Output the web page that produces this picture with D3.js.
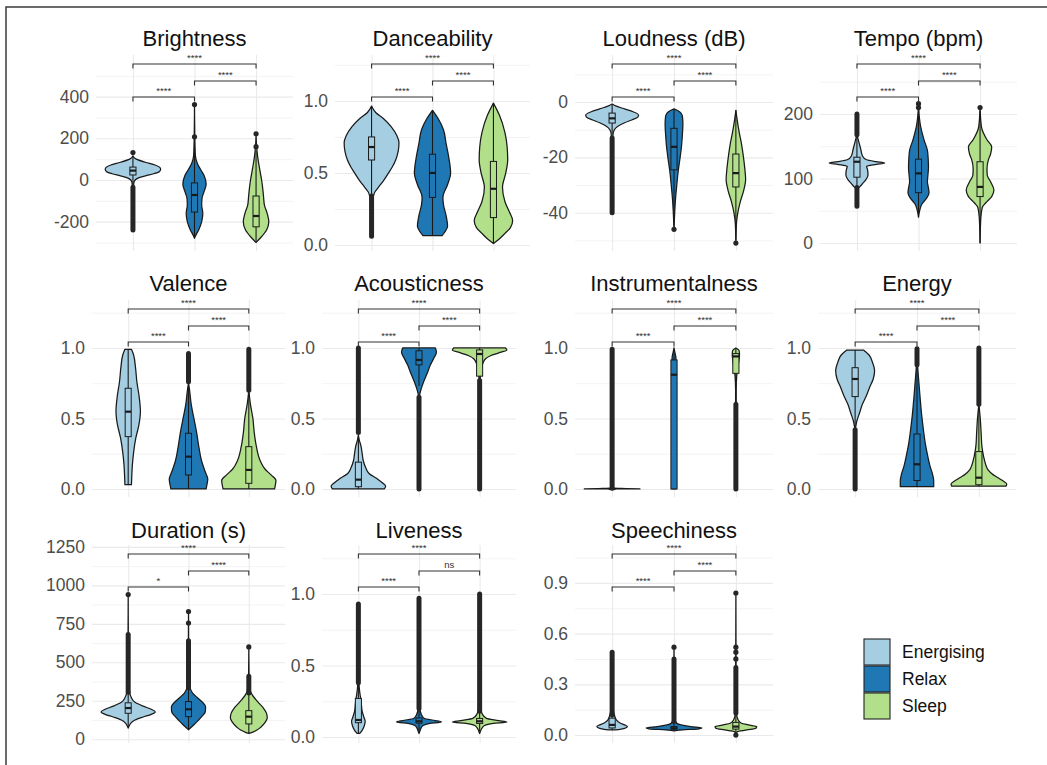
<!DOCTYPE html>
<html><head><meta charset="utf-8">
<script src="https://cdn.jsdelivr.net/npm/d3@7"></script>
<style>body{margin:0;background:#fff}svg{display:block;font-family:"Liberation Sans",Arial,Helvetica,sans-serif}</style>
</head><body><svg id="c" width="1047" height="765"></svg>
<script>
// ---------------- DATA ----------------
const groups = ["Energising", "Relax", "Sleep"];
const groupColors = ["#A6CEE3", "#1F78B4", "#B2DF8A"];
const panelTitles = ["Brightness","Danceability","Loudness (dB)","Tempo (bpm)","Valence","Acousticness","Instrumentalness","Energy","Duration (s)","Liveness","Speechiness"];

// y-axis domain per panel
const yDomains = [[-341,600],[-0.042,1.319],[-53.85,17.0],[-12.4,291.5],[-0.057,1.34],[-0.057,1.34],[-0.057,1.34],[-0.057,1.34],[-24,1262],[-0.042,1.343],[-0.047,1.124]];
// major ticks and labels
const tickValues = [[-200,0,200,400],[0,0.5,1],[-40,-20,0],[0,100,200],[0,0.5,1],[0,0.5,1],[0,0.5,1],[0,0.5,1],[0,250,500,750,1000,1250],[0,0.5,1],[0,0.3,0.6,0.9]];
const tickLabels = [["-200","0","200","400"],["0.0","0.5","1.0"],["-40","-20","0"],["0","100","200"],["0.0","0.5","1.0"],["0.0","0.5","1.0"],["0.0","0.5","1.0"],["0.0","0.5","1.0"],["0","250","500","750","1000","1250"],["0.0","0.5","1.0"],["0.0","0.3","0.6","0.9"]];
const minorTicks = [[-300,-100,100,300,500],[0.25,0.75,1.25],[-50,-30,-10,10],[50,150,250],[0.25,0.75,1.25],[0.25,0.75,1.25],[0.25,0.75,1.25],[0.25,0.75,1.25],[125,375,625,875,1125],[0.25,0.75,1.25],[0.15,0.45,0.75,1.05]];

// violin profiles: [value, relative half-width] per group (Energising, Relax, Sleep)
const violinProfiles = [
 [ // Brightness
  [[115,0],[100,0.12],[85,0.45],[72,0.8],[60,0.97],[50,1.0],[40,0.95],[30,0.75],[20,0.45],[10,0.2],[0,0.08],[-15,0.03],[-60,0.015],[-240,0.005]],
  [[360,0],[210,0.01],[120,0.03],[80,0.1],[50,0.22],[20,0.35],[-20,0.42],[-50,0.36],[-90,0.27],[-120,0.26],[-160,0.3],[-200,0.26],[-240,0.15],[-270,0.03],[-280,0]],
  [[222,0],[160,0.02],[110,0.06],[60,0.12],[0,0.2],[-40,0.24],[-80,0.27],[-120,0.3],[-160,0.4],[-200,0.46],[-240,0.38],[-275,0.18],[-300,0]]
 ],
 [ // Danceability
  [[0.965,0],[0.92,0.15],[0.88,0.42],[0.82,0.72],[0.76,0.92],[0.71,1.0],[0.65,0.97],[0.59,0.88],[0.54,0.75],[0.5,0.62],[0.45,0.45],[0.4,0.25],[0.36,0.1],[0.3,0.04],[0.06,0.01]],
  [[0.935,0],[0.88,0.2],[0.8,0.4],[0.7,0.5],[0.6,0.6],[0.5,0.66],[0.42,0.55],[0.33,0.38],[0.28,0.4],[0.2,0.5],[0.13,0.55],[0.09,0.45],[0.065,0.35]],
  [[0.985,0],[0.9,0.22],[0.78,0.42],[0.68,0.5],[0.59,0.52],[0.5,0.45],[0.4,0.33],[0.3,0.42],[0.23,0.58],[0.17,0.7],[0.12,0.62],[0.08,0.42],[0.04,0.2],[0.01,0]]
 ],
 [ // Loudness
  [[-0.7,0],[-1.5,0.15],[-2.5,0.45],[-3.5,0.75],[-4.7,0.95],[-5.5,0.92],[-6.5,0.7],[-7.5,0.45],[-8.5,0.25],[-10,0.08],[-12,0.03],[-40,0.005]],
  [[-2.5,0],[-3.5,0.2],[-5,0.3],[-8,0.32],[-12,0.3],[-16,0.27],[-20,0.22],[-25,0.15],[-30,0.1],[-35,0.055],[-40,0.025],[-46,0]],
  [[-3,0],[-6,0.04],[-11,0.12],[-15,0.2],[-19,0.26],[-24,0.32],[-28,0.35],[-32,0.28],[-36,0.16],[-40,0.07],[-44,0.02],[-51,0]]
 ],
 [ // Tempo
  [[168,0],[155,0.08],[145,0.14],[135,0.2],[129,0.35],[126,0.7],[124,1.0],[122,0.7],[119,0.35],[114,0.38],[106,0.4],[98,0.32],[92,0.2],[87,0.1],[83,0]],
  [[216,0],[195,0.03],[180,0.08],[160,0.2],[144,0.32],[130,0.35],[118,0.36],[105,0.34],[95,0.32],[85,0.36],[78,0.38],[70,0.3],[60,0.12],[50,0.04],[40,0]],
  [[210,0],[180,0.05],[160,0.25],[149,0.42],[138,0.38],[129,0.3],[115,0.25],[105,0.26],[95,0.38],[82,0.5],[72,0.42],[62,0.2],[55,0.08],[40,0.03],[20,0.01],[0,0]]
 ],
 [ // Valence
  [[0.99,0.12],[0.95,0.2],[0.86,0.27],[0.76,0.32],[0.66,0.4],[0.55,0.45],[0.46,0.4],[0.36,0.28],[0.26,0.2],[0.16,0.15],[0.08,0.13],[0.03,0.12]],
  [[0.75,0],[0.7,0.04],[0.6,0.1],[0.5,0.2],[0.4,0.3],[0.3,0.38],[0.2,0.48],[0.12,0.62],[0.07,0.71],[0.03,0.68],[0,0.65]],
  [[0.7,0],[0.6,0.06],[0.5,0.15],[0.4,0.2],[0.3,0.28],[0.2,0.42],[0.14,0.6],[0.1,0.82],[0.06,1.0],[0.03,0.98],[0,0.95]]
 ],
 [ // Acousticness
  [[0.38,0],[0.35,0.03],[0.3,0.1],[0.25,0.14],[0.2,0.18],[0.15,0.27],[0.11,0.39],[0.07,0.7],[0.04,0.9],[0.02,1.0],[0,0.95]],
  [[1.0,0.6],[0.97,0.64],[0.93,0.55],[0.88,0.42],[0.82,0.3],[0.76,0.17],[0.71,0.08],[0.66,0.02],[0.5,0.005],[0,0]],
  [[1.0,0.95],[0.985,1.0],[0.965,0.7],[0.945,0.4],[0.92,0.2],[0.88,0.1],[0.83,0.05],[0.78,0.02],[0.5,0.005],[0,0]]
 ],
 [ // Instrumentalness
  [[0.012,0],[0.006,0.05],[0.003,0.5],[0,1.0]],
  [[1.0,0],[0.97,0.03],[0.93,0.07],[0.8,0.07],[0.5,0.07],[0.2,0.07],[0,0.07]],
  [[1.0,0],[0.98,0.12],[0.95,0.13],[0.9,0.1],[0.85,0.06],[0.8,0.03],[0.7,0.01],[0,0.005]]
 ],
 [ // Energy
  [[0.985,0.3],[0.95,0.5],[0.9,0.62],[0.84,0.7],[0.78,0.65],[0.72,0.52],[0.66,0.4],[0.6,0.26],[0.54,0.16],[0.48,0.06],[0.44,0.02],[0.42,0]],
  [[0.98,0],[0.85,0.03],[0.75,0.07],[0.65,0.11],[0.52,0.17],[0.42,0.23],[0.32,0.3],[0.23,0.39],[0.16,0.47],[0.11,0.55],[0.06,0.6],[0.016,0.6]],
  [[0.6,0],[0.5,0.05],[0.4,0.08],[0.3,0.11],[0.23,0.17],[0.17,0.25],[0.135,0.33],[0.1,0.52],[0.087,0.63],[0.06,0.85],[0.035,1.0],[0.02,0.98]]
 ],
 [ // Duration
  [[940,0],[700,0.005],[400,0.02],[310,0.05],[270,0.12],[240,0.25],[215,0.55],[195,0.85],[178,1.0],[162,0.85],[145,0.55],[125,0.25],[105,0.1],[85,0.03],[73,0]],
  [[830,0],[600,0.005],[400,0.02],[340,0.05],[300,0.15],[270,0.33],[240,0.52],[210,0.63],[180,0.62],[150,0.5],[120,0.34],[95,0.2],[75,0.08],[62,0]],
  [[600,0],[400,0.01],[320,0.05],[290,0.12],[260,0.25],[230,0.4],[200,0.55],[170,0.65],[140,0.68],[110,0.6],[80,0.45],[60,0.3],[45,0.12],[38,0]]
 ],
 [ // Liveness
  [[0.93,0],[0.5,0.005],[0.35,0.03],[0.3,0.06],[0.25,0.1],[0.18,0.14],[0.14,0.2],[0.11,0.25],[0.08,0.22],[0.05,0.15],[0.025,0.05]],
  [[0.97,0],[0.4,0.005],[0.25,0.015],[0.2,0.03],[0.16,0.08],[0.13,0.2],[0.115,0.6],[0.105,0.82],[0.095,0.4],[0.08,0.15],[0.06,0.07],[0.04,0.03],[0.025,0]],
  [[1.0,0],[0.4,0.005],[0.25,0.02],[0.2,0.04],[0.16,0.1],[0.13,0.25],[0.115,0.7],[0.105,1.0],[0.095,0.5],[0.08,0.18],[0.06,0.08],[0.04,0.03],[0.025,0]]
 ],
 [ // Speechiness
  [[0.49,0],[0.2,0.02],[0.15,0.04],[0.12,0.08],[0.09,0.15],[0.07,0.3],[0.06,0.45],[0.05,0.55],[0.04,0.45],[0.03,0.1]],
  [[0.52,0],[0.12,0.02],[0.09,0.04],[0.07,0.1],[0.06,0.25],[0.05,0.6],[0.042,1.0],[0.037,0.9],[0.03,0.3],[0.025,0]],
  [[0.84,0],[0.5,0.005],[0.12,0.03],[0.09,0.08],[0.07,0.2],[0.06,0.45],[0.05,0.75],[0.04,0.72],[0.03,0.4],[0.02,0.05],[0,0]]
 ]
];

// box stats: [whiskerLow, q1, median, q3, whiskerHigh]
const boxStats = [
 [[-30,24,45,62,118],[-275,-154,-72,-14,180],[-300,-225,-173,-77,140]],
 [[0.35,0.59,0.68,0.75,0.96],[0.065,0.33,0.5,0.63,0.935],[0.01,0.19,0.39,0.58,0.985]],
 [[-12,-7.6,-5.9,-4,-0.8],[-45,-24.5,-16.2,-9.5,-2.5],[-50,-30.7,-25.7,-18.8,-3]],
 [[88,102,126,133,165],[40,78,108,130,205],[0,72,87,126,205]],
 [[0.03,0.371,0.548,0.714,0.99],[0,0.099,0.229,0.395,0.74],[0,0.04,0.135,0.30,0.68]],
 [[0,0.016,0.066,0.19,0.38],[0.73,0.88,0.915,0.98,1.0],[0.78,0.80,0.957,0.986,1.0]],
 [[0,0,0,0,0],[0,0,0.81,0.915,0.99],[0.61,0.82,0.94,0.96,1.0]],
 [[0.43,0.655,0.78,0.86,0.985],[0.016,0.06,0.175,0.39,0.88],[0.02,0.03,0.08,0.265,0.6]],
 [[80,169,203,237,300],[62,147,195,245,330],[38,100,147,186,290]],
 [[0.025,0.10,0.119,0.27,0.38],[0.04,0.097,0.11,0.133,0.19],[0.04,0.095,0.11,0.13,0.18]],
 [[0.03,0.042,0.06,0.1,0.18],[0.025,0.036,0.04,0.05,0.07],[0.0,0.035,0.05,0.075,0.13]]
];

// densely packed outliers: [from, to] value ranges
const outlierRuns = [
 [[[-35,-240]],[],[]],
 [[[0.06,0.34]],[],[]],
 [[[-13,-40]],[],[]],
 [[[168,200],[57,86]],[],[]],
 [[],[[0.76,0.96]],[[0.7,0.99]]],
 [[[0.4,1.0]],[[0.0,0.65]],[[0.0,0.77]]],
 [[[0.005,0.99]],[],[[0.0,0.6]]],
 [[[0.0,0.42]],[[0.88,0.995]],[[0.6,1.0]]],
 [[[305,680]],[[335,640]],[[300,410]]],
 [[[0.38,0.93]],[[0.2,0.97]],[[0.18,1.0]]],
 [[[0.12,0.49]],[[0.08,0.45]],[[0.13,0.4]]]
];
// single outliers
const outlierPoints = [
 [[132],[207,362],[160,222]],
 [[],[],[]],
 [[],[-46],[-51]],
 [[],[210,216],[210]],
 [[],[],[]],
 [[],[],[]],
 [[],[],[]],
 [[],[],[]],
 [[940],[755,830],[600]],
 [[],[],[]],
 [[],[0.52],[0.0,0.45,0.49,0.52,0.84]]
];
// significance labels: [Energising-Relax, Relax-Sleep, Energising-Sleep]
const sigLabels = [
 ["****","****","****"],["****","****","****"],["****","****","****"],["****","****","****"],
 ["****","****","****"],["****","****","****"],["****","****","****"],["****","****","****"],
 ["*","****","****"],["****","ns","****"],["****","****","****"]
];

// ---------------- LAYOUT ----------------
const rowTop = [55, 300, 545], rowBot = [251, 497, 743], titleY = [38, 283, 530];
const panelLayout = [[96,293,0],[335,530,0],[575,773,0],[820,1017,0],[92,285,1],[322,516,1],[575,773,1],[818,1016,1],[92,285,2],[322,516,2],[575,773,2]];
const bracketOffsets = [42, 26, 9]; // px below panel top

const svg = d3.select("#c");
svg.append("rect").attr("width",1047).attr("height",765).attr("fill","#fff");
// frame (top and left edges)
svg.append("path").attr("d","M6,765 V7 H1047").attr("fill","none").attr("stroke","#3a3a3a").attr("stroke-width",1.5);

const ink = "#1a1a1a";

panelTitles.forEach((title, p) => {
  const [L, R, row] = panelLayout[p];
  const top = rowTop[row], bot = rowBot[row];
  const y = d3.scaleLinear().domain(yDomains[p]).range([bot, top]);
  const x = d3.scalePoint().domain(groups).range([L, R]).padding(0.6);
  const step = x.step();
  const hw = 0.45 * step;
  const g = svg.append("g");

  // minor grid
  g.append("g").attr("transform",`translate(${L},0)`)
    .call(d3.axisLeft(y).tickValues(minorTicks[p].filter(v=>v>=yDomains[p][0]&&v<=yDomains[p][1])).tickSize(-(R-L)).tickFormat(""))
    .call(s=>{s.select(".domain").remove(); s.selectAll("line").attr("stroke","#F0F0F0").attr("stroke-width",0.8);});
  // major grid
  g.append("g").attr("transform",`translate(${L},0)`)
    .call(d3.axisLeft(y).tickValues(tickValues[p]).tickSize(-(R-L)).tickFormat(""))
    .call(s=>{s.select(".domain").remove(); s.selectAll("line").attr("stroke","#EAEAEA").attr("stroke-width",1.1);});
  // vertical grid
  g.append("g").attr("transform",`translate(0,${bot})`)
    .call(d3.axisBottom(x).tickSize(-(bot-top)).tickFormat(""))
    .call(s=>{s.select(".domain").remove(); s.selectAll("line").attr("stroke","#EAEAEA").attr("stroke-width",1.1);});
  // tick labels
  g.append("g").attr("transform",`translate(${L},0)`)
    .call(d3.axisLeft(y).tickValues(tickValues[p]).tickSize(0).tickPadding(7).tickFormat((d,i)=>tickLabels[p][i]))
    .call(s=>{s.select(".domain").remove(); s.selectAll("text").attr("fill","#4d4d4d").attr("font-size",17.5).attr("font-family",null);});

  // title
  g.append("text").attr("x",(L+R)/2).attr("y",titleY[row]+8).attr("text-anchor","middle")
    .attr("font-size",22).attr("fill","#111").text(title);

  groups.forEach((grp, k) => {
    const cx = x(grp);
    const prof = violinProfiles[p][k];
    const area = d3.area().y(d=>y(d[0])).x0(d=>cx-d[1]*hw).x1(d=>cx+d[1]*hw).curve(d3.curveMonotoneY);
    g.append("path").attr("d",area(prof)).attr("fill",groupColors[k]).attr("stroke",ink).attr("stroke-width",1.25).attr("stroke-linejoin","round");
    const [wl,q1,md,q3,wh] = boxStats[p][k];
    const bw = 0.1*step;
    g.append("line").attr("x1",cx).attr("x2",cx).attr("y1",y(wl)).attr("y2",y(q1)).attr("stroke",ink).attr("stroke-width",1.1);
    g.append("line").attr("x1",cx).attr("x2",cx).attr("y1",y(q3)).attr("y2",y(wh)).attr("stroke",ink).attr("stroke-width",1.1);
    g.append("rect").attr("x",cx-bw/2).attr("width",bw).attr("y",y(q3)).attr("height",Math.max(0.01,y(q1)-y(q3)))
      .attr("fill",groupColors[k]).attr("stroke",ink).attr("stroke-width",1);
    g.append("line").attr("x1",cx-bw/2).attr("x2",cx+bw/2).attr("y1",y(md)).attr("y2",y(md)).attr("stroke",ink).attr("stroke-width",2.2);
    outlierRuns[p][k].forEach(r => {
      g.append("line").attr("x1",cx).attr("x2",cx).attr("y1",y(r[0])).attr("y2",y(r[1]))
        .attr("stroke","#262626").attr("stroke-width",5).attr("stroke-linecap","round");
    });
    outlierPoints[p][k].forEach(v => {
      g.append("circle").attr("cx",cx).attr("cy",y(v)).attr("r",2.6).attr("fill","#262626");
    });
  });

  // significance brackets
  const pairs = [[0,1],[1,2],[0,2]];
  pairs.forEach((pr, i) => {
    const x1 = x(groups[pr[0]]), x2 = x(groups[pr[1]]);
    const by = top + bracketOffsets[i];
    g.append("path").attr("d",`M${x1},${by+4.5}V${by}H${x2}V${by+4.5}`).attr("fill","none").attr("stroke","#333").attr("stroke-width",1.1);
    g.append("text").attr("x",(x1+x2)/2).attr("y",by-3.5).attr("text-anchor","middle").attr("font-size",9.5)
      .attr("fill","#333").text(sigLabels[p][i]);
  });
});

// legend
const lg = svg.append("g");
groups.forEach((grp,k)=>{
  lg.append("rect").attr("x",864).attr("y",639+k*27).attr("width",26).attr("height",26)
    .attr("fill",groupColors[k]).attr("stroke","#222").attr("stroke-width",1.1);
  lg.append("text").attr("x",902).attr("y",652+k*27+6).attr("font-size",17.5).attr("fill","#111").text(grp);
});
</script>
</body></html>
